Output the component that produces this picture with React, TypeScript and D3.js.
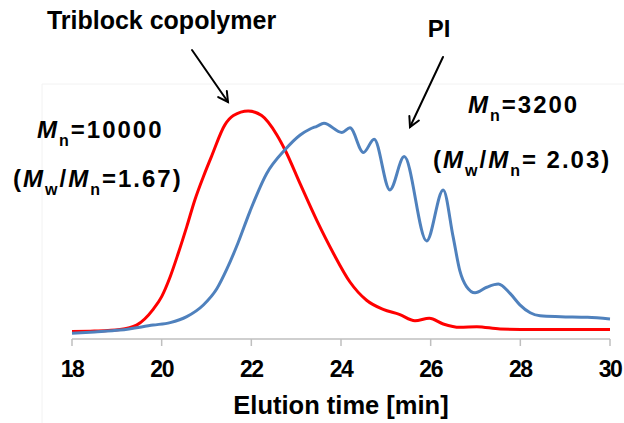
import React from 'react';
import * as d3 from 'd3';

// elution time (min) and detector response (relative, peak of copolymer = 100)
const copolymerTime = [18, 18.5, 19.07, 19.44, 19.81, 20, 20.19, 20.37, 20.56, 20.74, 20.93, 21.12, 21.41, 21.6, 21.93, 22.23, 22.57, 22.75, 23.09, 23.46, 23.83, 24.2, 24.57, 24.94, 25.3, 25.65, 25.97, 26.28, 26.65, 27.03, 27.55, 28.3, 29, 30];
const copolymerSignal = [3.3, 3.5, 4.2, 6.1, 13, 18.6, 27.3, 37.6, 49.3, 61, 71.2, 80.5, 93.9, 98, 100, 98, 89.5, 83, 68, 52, 37.6, 25, 17, 13, 10.8, 8, 9.1, 6.6, 5.1, 5.4, 4.4, 4.2, 4.2, 4.2];

const piTime = [18, 18.5, 19.07, 19.81, 20.19, 20.56, 20.93, 21.23, 21.45, 21.7, 21.97, 22.34, 22.75, 23.09, 23.3, 23.46, 23.62, 24.02, 24.2, 24.5, 24.74, 25.09, 25.41, 25.91, 26.28, 26.5, 26.65, 26.8, 26.99, 27.25, 27.51, 27.77, 27.99, 28.22, 28.44, 28.9, 29.5, 30];
const piSignal = [2.5, 3.1, 3.9, 6.1, 7.2, 9.8, 14.9, 22, 30.5, 42, 56, 72.5, 83, 89.5, 92, 93.3, 94.6, 90.6, 92.6, 81.8, 87.6, 65.4, 80, 43, 65.4, 44.9, 30, 23, 20.3, 22.7, 24.1, 20, 15, 11.5, 10.2, 9.8, 9.5, 8.8];

const xTicks = [18, 20, 22, 24, 26, 28, 30];

const W = 624;
const H = 423;
const font = "'Liberation Sans', Arial, sans-serif";

const x = d3.scaleLinear().domain([18, 30]).range([72, 610]);
const y = d3.scaleLinear().domain([0, 100]).range([339, 111]);

const line = d3.line<[number, number]>()
  .x(d => x(d[0]))
  .y(d => y(d[1]))
  .curve(d3.curveMonotoneX);

const redPath = line(copolymerTime.map((t, i) => [t, copolymerSignal[i]] as [number, number]));
const bluePath = line(piTime.map((t, i) => [t, piSignal[i]] as [number, number]));

function Arrow({ x1, y1, x2, y2 }: { x1: number; y1: number; x2: number; y2: number }) {
  const a = Math.atan2(y2 - y1, x2 - x1);
  const len = 11;
  const spread = 0.5;
  const h1 = [x2 - len * Math.cos(a - spread), y2 - len * Math.sin(a - spread)];
  const h2 = [x2 - len * Math.cos(a + spread), y2 - len * Math.sin(a + spread)];
  return (
    <g stroke="#000" strokeWidth={2} fill="none" strokeLinecap="round">
      <line x1={x1} y1={y1} x2={x2} y2={y2} />
      <polyline points={`${h1[0]},${h1[1]} ${x2},${y2} ${h2[0]},${h2[1]}`} />
    </g>
  );
}

// M_n label, subscript shifted down
function MnLabel({ x0, y0, value }: { x0: number; y0: number; value: string }) {
  return (
    <text x={x0} y={y0} fontFamily={font} fontWeight="bold" fontSize={24} letterSpacing={2} fill="#000">
      <tspan fontStyle="italic">M</tspan>
      <tspan fontSize={16} dy={8}>n</tspan>
      <tspan dy={-8}>{value}</tspan>
    </text>
  );
}

function RatioLabel({ x0, y0, value }: { x0: number; y0: number; value: string }) {
  return (
    <text x={x0} y={y0} fontFamily={font} fontWeight="bold" fontSize={24} letterSpacing={2} fill="#000">
      <tspan>(</tspan>
      <tspan fontStyle="italic">M</tspan>
      <tspan fontSize={16} dy={8}>w</tspan>
      <tspan dy={-8}>/</tspan>
      <tspan fontStyle="italic">M</tspan>
      <tspan fontSize={16} dy={8}>n</tspan>
      <tspan dy={-8}>{value})</tspan>
    </text>
  );
}

export default function App() {
  return (
    <svg width={W} height={H} style={{ position: 'absolute', left: 0, top: 0, background: '#fff' }}>
      {/* faint chart-area border */}
      <line x1={42} y1={84} x2={W} y2={84} stroke="#f2f2f2" />
      <line x1={42} y1={84} x2={42} y2={H} stroke="#f2f2f2" />

      {/* x axis */}
      <line x1={x(18)} y1={339} x2={x(30)} y2={339} stroke="#bfbfbf" strokeWidth={1.5} />
      {xTicks.map(t => (
        <g key={t}>
          <line x1={x(t)} y1={339} x2={x(t)} y2={346} stroke="#bfbfbf" strokeWidth={1.5} />
          <text x={x(t)} y={377} textAnchor="middle" fontFamily={font} fontWeight="bold"
            fontSize={23} letterSpacing={-1.5} fill="#000">{t}</text>
        </g>
      ))}
      <text x={341} y={414} textAnchor="middle" fontFamily={font} fontWeight="bold" fontSize={25.5} fill="#000">
        Elution time [min]
      </text>

      {/* curves */}
      <path d={redPath || ''} fill="none" stroke="#ff0000" strokeWidth={3} />
      <path d={bluePath || ''} fill="none" stroke="#4f81bd" strokeWidth={3} />

      {/* annotations */}
      <text x={161.5} y={29} textAnchor="middle" fontFamily={font} fontWeight="bold" fontSize={25} fill="#000">
        Triblock copolymer
      </text>
      <Arrow x1={192} y1={50} x2={228} y2={102} />
      <text x={439} y={37} textAnchor="middle" fontFamily={font} fontWeight="bold" fontSize={24} fill="#000">PI</text>
      <Arrow x1={443} y1={57} x2={410} y2={127} />

      <MnLabel x0={37} y0={137.5} value="=10000" />
      <RatioLabel x0={13} y0={187} value="=1.67" />
      <MnLabel x0={468} y0={113} value="=3200" />
      <RatioLabel x0={433} y0={168} value="= 2.03" />
    </svg>
  );
}
